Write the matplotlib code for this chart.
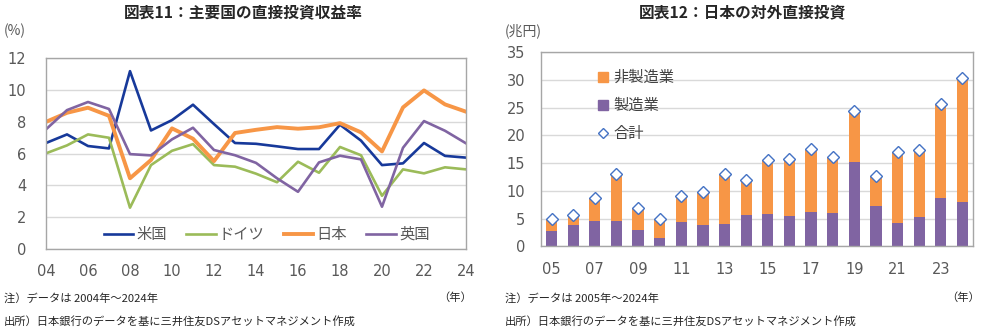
import numpy as np
import matplotlib
matplotlib.use("Agg")
import matplotlib.pyplot as plt
from matplotlib.lines import Line2D

plt.rcParams['font.family'] = ['Noto Sans CJK JP', 'DejaVu Sans']

# --- 図表11: 主要国の直接投資収益率 (%) ---
years_l = list(range(2004, 2025))
us = [6.67, 7.21, 6.48, 6.33, 11.19, 7.46, 8.11, 9.08, 7.86, 6.67, 6.62,
      6.46, 6.29, 6.29, 7.82, 6.82, 5.28, 5.39, 6.67, 5.86, 5.75]
germany = [6.02, 6.52, 7.21, 7.0, 2.6, 5.28, 6.18, 6.6, 5.28, 5.18, 4.74,
           4.2, 5.49, 4.8, 6.42, 5.9, 3.35, 5.01, 4.76, 5.14, 5.01]
japan = [8.0, 8.57, 8.89, 8.38, 4.45, 5.6, 7.59, 6.94, 5.53, 7.3, 7.5,
         7.67, 7.57, 7.66, 7.92, 7.34, 6.14, 8.91, 9.98, 9.1, 8.64]
uk = [7.53, 8.74, 9.25, 8.81, 5.97, 5.89, 6.9, 7.63, 6.23, 5.9, 5.42,
      4.45, 3.6, 5.45, 5.87, 5.64, 2.66, 6.37, 8.05, 7.44, 6.65]
line_names = ['米国', 'ドイツ', '日本', '英国']

# --- 図表12: 日本の対外直接投資 (兆円) ---
years_r = list(range(2005, 2025))
manufacturing = [2.82, 3.9, 4.63, 4.63, 3.0, 1.56, 4.45, 3.9, 4.09, 5.71,
                 5.89, 5.53, 6.25, 6.07, 15.16, 7.34, 4.15, 5.35, 8.78, 7.94]
total = [5.0, 5.7, 8.66, 13.1, 6.97, 4.93, 9.14, 9.8, 13.1, 11.97,
         15.6, 15.8, 17.6, 16.1, 24.5, 12.75, 17.1, 17.3, 25.7, 30.3]
non_manufacturing = [t - m for t, m in zip(total, manufacturing)]

ORANGE = '#F79646'
PURPLE = '#8064A2'
BLUE = '#17399A'
GREEN = '#9BBB59'
TEXT = '#595959'
GRID = '#D9D9D9'
SPINE = '#A6A6A6'

fig = plt.figure(figsize=(9.86, 3.32), dpi=100)


def style_axes(ax):
    for s in ax.spines.values():
        s.set_color(SPINE)
        s.set_linewidth(1.0)
    ax.tick_params(length=0, colors=TEXT, labelsize=10.5)
    for lab in ax.get_xticklabels() + ax.get_yticklabels():
        lab.set_family('DejaVu Sans')
    ax.grid(axis='y', color=GRID, linewidth=1.0)
    ax.set_axisbelow(True)


# left chart
ax1 = fig.add_axes([46 / 986, 1 - 249 / 332, 420 / 986, 190.7 / 332])
ax1.plot(years_l, us, color=BLUE, lw=1.9, label=line_names[0])
ax1.plot(years_l, germany, color=GREEN, lw=1.9, label=line_names[1])
ax1.plot(years_l, japan, color=ORANGE, lw=2.8, label=line_names[2])
ax1.plot(years_l, uk, color=PURPLE, lw=1.9, label=line_names[3])
ax1.set_xlim(2004, 2024)
ax1.set_ylim(0, 12)
ax1.set_yticks(range(0, 13, 2))
ax1.set_xticks(range(2004, 2025, 2))
ax1.set_xticklabels(['%02d' % (y % 100) for y in range(2004, 2025, 2)])
style_axes(ax1)
ax1.tick_params(axis='y', pad=14)
ax1.tick_params(axis='x', pad=11)
leg1 = ax1.legend(loc='lower center', ncol=4, frameon=False,
                  bbox_to_anchor=(0.525, -0.04), fontsize=11,
                  handlelength=1.95, columnspacing=1.25, handletextpad=0.2)
for t in leg1.get_texts():
    t.set_color(TEXT)

# right chart
ax2 = fig.add_axes([540.7 / 986, 1 - 246.3 / 332, 432.6 / 986, 194 / 332])
x = np.arange(len(years_r))
ax2.bar(x, manufacturing, width=0.52, color=PURPLE)
ax2.bar(x, non_manufacturing, width=0.52, bottom=manufacturing, color=ORANGE)
ax2.plot(x, total, linestyle='none', marker='D', markersize=6.3,
         markerfacecolor='white', markeredgecolor='#4472C4', markeredgewidth=1.0)
ax2.set_xlim(-0.5, len(years_r) - 0.5)
ax2.set_ylim(0, 35)
ax2.set_yticks(range(0, 36, 5))
ax2.set_xticks(x[::2])
ax2.set_xticklabels(['%02d' % (y % 100) for y in years_r[::2]])
style_axes(ax2)
ax2.tick_params(axis='y', pad=11)
ax2.tick_params(axis='x', pad=11)
handles = [
    Line2D([], [], linestyle='none', marker='s', markersize=7,
           markerfacecolor=ORANGE, markeredgecolor=ORANGE),
    Line2D([], [], linestyle='none', marker='s', markersize=7,
           markerfacecolor=PURPLE, markeredgecolor=PURPLE),
    Line2D([], [], linestyle='none', marker='D', markersize=5.5,
           markerfacecolor='white', markeredgecolor='#4472C4'),
]
leg2 = ax2.legend(handles, ['非製造業', '製造業', '合計'], loc='upper left',
                  bbox_to_anchor=(0.097, 0.985), frameon=False, fontsize=11,
                  handlelength=0.8, handletextpad=0.3, labelspacing=0.72)
for t in leg2.get_texts():
    t.set_color('#404040')

# titles and notes
fig.text(243 / 986, 1 - 12 / 332, '図表11：主要国の直接投資収益率', ha='center',
         va='center', fontsize=11.3, fontweight='bold', color='#262626')
fig.text(743 / 986, 1 - 12 / 332, '図表12：日本の対外直接投資', ha='center',
         va='center', fontsize=11.3, fontweight='bold', color='#262626')
fig.text(4 / 986, 1 - 31 / 332, '(%)', ha='left', va='center', fontsize=10, color=TEXT)
fig.text(505 / 986, 1 - 31 / 332, '(兆円)', ha='left', va='center', fontsize=10, color=TEXT)

note_kw = dict(va='center', fontsize=8.1, color='#262626')
fig.text(4 / 986, 1 - 298 / 332, '注）データは 2004年～2024年', ha='left', **note_kw)
fig.text(472 / 986, 1 - 298 / 332, '（年）', ha='right', **note_kw)
fig.text(4 / 986, 1 - 321 / 332, '出所）日本銀行のデータを基に三井住友DSアセットマネジメント作成',
         ha='left', **note_kw)
fig.text(505 / 986, 1 - 298 / 332, '注）データは 2005年～2024年', ha='left', **note_kw)
fig.text(980 / 986, 1 - 298 / 332, '（年）', ha='right', **note_kw)
fig.text(505 / 986, 1 - 321 / 332, '出所）日本銀行のデータを基に三井住友DSアセットマネジメント作成',
         ha='left', **note_kw)

fig.savefig('out.png', dpi=100, facecolor='white')
